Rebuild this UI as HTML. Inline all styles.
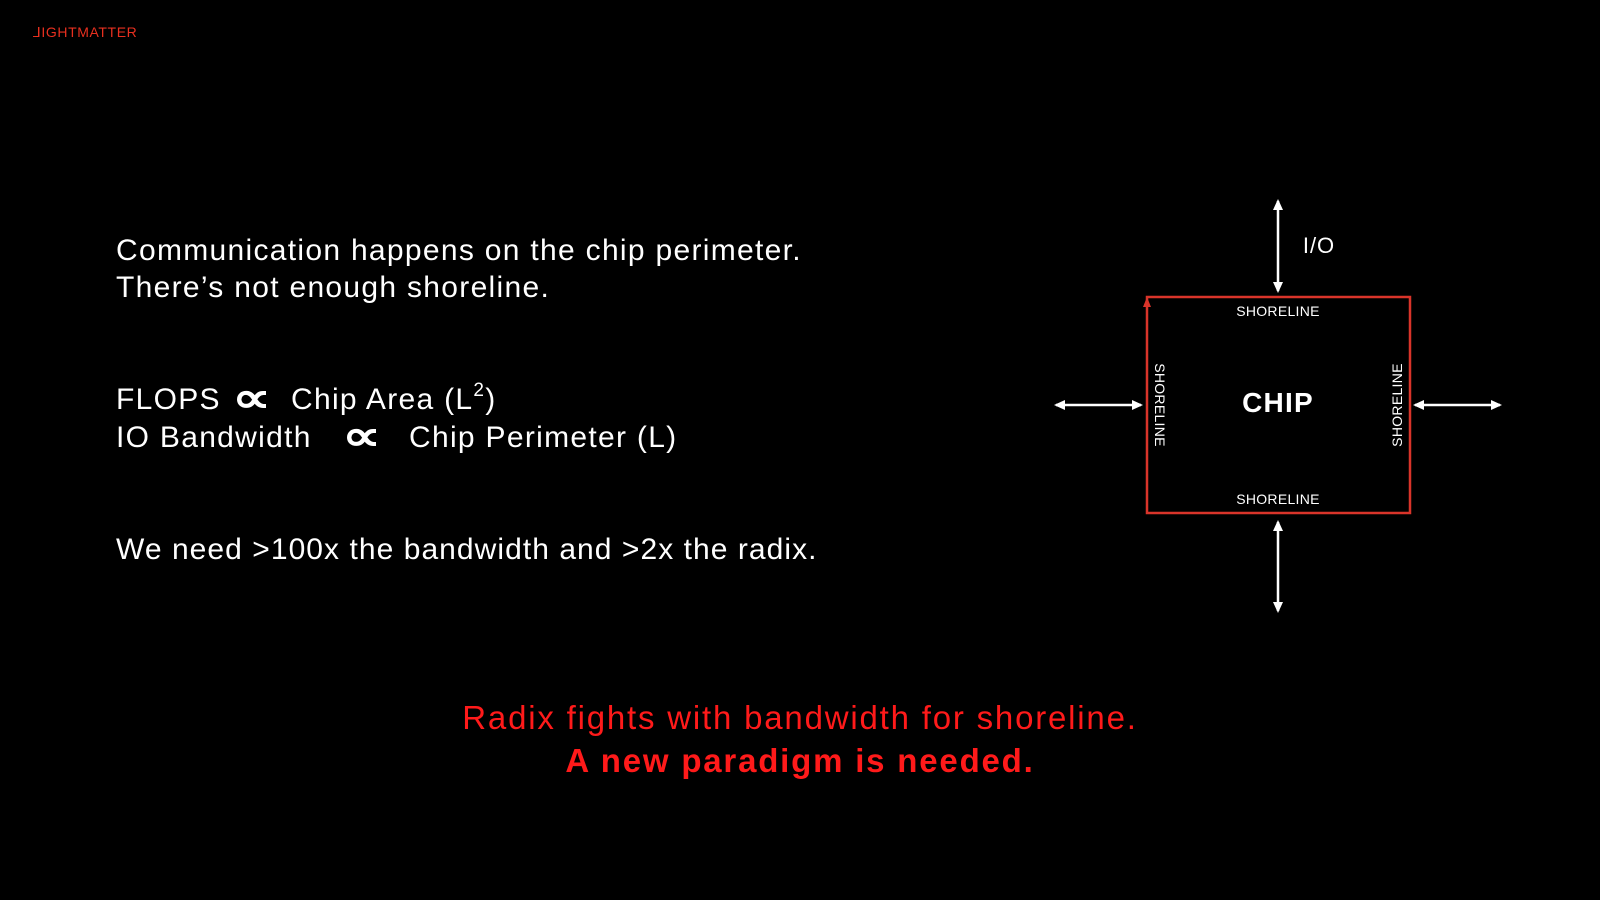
<!DOCTYPE html>
<html><head><meta charset="utf-8"><style>
body{margin:0;width:1600px;height:900px;background:#000;overflow:hidden;position:relative;font-family:"Liberation Sans",sans-serif;color:#fff}
.t{position:absolute;white-space:nowrap;font-size:30px;line-height:1;letter-spacing:1.3px}
.r{color:#ff1a1a;font-size:33px;left:0;width:1600px;text-align:center;letter-spacing:1.8px}
.p{font-size:42px;font-weight:bold;transform:scaleX(1.3);transform-origin:left}
</style></head><body>
<div class="t" style="left:33px;top:25px;font-size:14px;color:#e8301f;letter-spacing:0.6px">⅃IGHTMATTER</div>
<div class="t" style="left:116px;top:236px">Communication happens on the chip perimeter.</div>
<div class="t" style="left:116px;top:273px">There’s not enough shoreline.</div>
<div class="t" style="left:116px;top:385px">FLOPS</div>
<div class="t p" style="left:232px;top:377px">∝</div>
<div class="t" style="left:291px;top:385px">Chip Area (L<sup style="font-size:19px;vertical-align:13px;line-height:0">2</sup>)</div>
<div class="t" style="left:116px;top:423px">IO Bandwidth</div>
<div class="t p" style="left:342px;top:415px">∝</div>
<div class="t" style="left:409px;top:423px">Chip Perimeter (L)</div>
<div class="t" style="left:116px;top:535px;letter-spacing:1.05px">We need &gt;100x the bandwidth and &gt;2x the radix.</div>
<div class="t r" style="top:701px">Radix fights with bandwidth for shoreline.</div>
<div class="t r" style="top:744px;font-weight:bold">A new paradigm is needed.</div>
<svg width="1600" height="900" style="position:absolute;left:0;top:0">
<defs><marker id="a" markerWidth="12" markerHeight="12" refX="9" refY="5" orient="auto-start-reverse" markerUnits="userSpaceOnUse"><path d="M0,0 L11,5 L0,10 z" fill="#fff"/></marker></defs>
<rect x="1147" y="297" width="263" height="216" fill="none" stroke="#d9342a" stroke-width="2.5"/>
<path d="M1143,307 L1147,297 L1151,307 z" fill="#d9342a"/>
<g stroke="#fff" stroke-width="2.5" marker-start="url(#a)" marker-end="url(#a)">
<line x1="1278" y1="201" x2="1278" y2="291"/>
<line x1="1278" y1="522" x2="1278" y2="611"/>
<line x1="1056" y1="405" x2="1141" y2="405"/>
<line x1="1415" y1="405" x2="1500" y2="405"/>
</g>
<g fill="#fff" font-family="Liberation Sans, sans-serif" text-anchor="middle">
<text x="1319" y="253" font-size="22" letter-spacing="1">I/O</text>
<text x="1278" y="316" font-size="14" letter-spacing="0.3">SHORELINE</text>
<text x="1278" y="504" font-size="14" letter-spacing="0.3">SHORELINE</text>
<text x="1278" y="412" font-size="28" font-weight="bold" letter-spacing="1.2">CHIP</text>
<text transform="translate(1155,405) rotate(90)" font-size="14" letter-spacing="0.3">SHORELINE</text>
<text transform="translate(1402,405) rotate(-90)" font-size="14" letter-spacing="0.3">SHORELINE</text>
</g>
</svg>
</body></html>
